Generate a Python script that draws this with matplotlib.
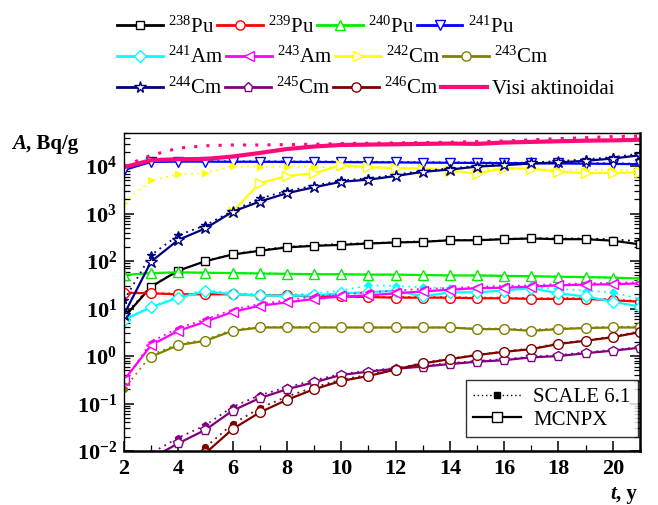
import matplotlib
matplotlib.use("Agg")
import matplotlib.pyplot as plt
import numpy as np
from matplotlib.lines import Line2D
from matplotlib.ticker import FixedLocator, LogLocator, NullFormatter, FuncFormatter

plt.rcParams['font.family'] = 'Liberation Serif'
plt.rcParams['mathtext.fontset'] = 'custom'
plt.rcParams['mathtext.rm'] = 'Liberation Serif'
plt.rcParams['mathtext.bf'] = 'Liberation Serif:bold'
plt.rcParams['mathtext.it'] = 'Liberation Serif:italic'

nan = np.nan
years = np.arange(2, 22)

# activity, Bq/g  (MCNPX = solid/open markers, SCALE 6.1 = dotted/filled markers)
pu238_mcnpx = [6.5, 29, 63, 100, 138, 165, 195, 210, 220, 235, 247, 255, 275, 275, 290, 300, 290, 290, 270, 225]
pu238_scale = [7, 30, 62, 100, 140, 170, 200, 215, 230, 240, 250, 262, 275, 280, 292, 305, 300, 300, 290, 260]
pu239_mcnpx = [21.5, 21, 20, 20, 20, 19, 19, 18, 18, 17.5, 17, 17, 17, 16.5, 16.5, 16, 16, 16, 15, 14]
pu239_scale = [22, 21.5, 20.5, 20.5, 20.5, 19.5, 19.5, 18.5, 18.5, 18, 17.5, 17.5, 17.5, 17, 17, 16.5, 16.5, 16.5, 15.5, 14.5]
pu240_mcnpx = [51, 56, 58, 57, 56, 55, 54, 53, 53, 52, 52, 51, 50, 50, 49, 48, 47, 46, 45, 43]
pu240_scale = [51, 56, 58, 57, 56, 55, 54, 53, 53, 52, 52, 51, 50, 50, 49, 48, 47, 46, 45, 44]
pu241_mcnpx = [8300, 12300, 12500, 12500, 12400, 12400, 12300, 12300, 12200, 12100, 12000, 11900, 11800, 11700,
               11600, 11500, 11400, 11300, 11200, 11000]
pu241_scale = [8500, 12600, 12800, 12800, 12700, 12700, 12600, 12600, 12500, 12400, 12300, 12200, 12100, 12000,
               11900, 11800, 11700, 11600, 11500, 11300]
am241_mcnpx = [5.8, 10.7, 17, 23, 20, 19, 18.5, 19, 21, 22, 24, 18, 22, 22, 24, 27, 21, 18, 14, 11]
am241_scale = [6, 11, 18, 25, 21, 20, 19.5, 21, 24, 31, 30, 28, 27, 27, 27, 28, 26, 24, 22, 16]
am243_mcnpx = [0.31, 1.7, 3.4, 5.3, 8.5, 11.5, 13.5, 16, 18, 19, 21, 23, 25, 27, 27.5, 29, 31, 32, 32.5, 34]
am243_scale = [0.28, 2.0, 3.9, 5.9, 9.5, 12.5, 15, 18, 20, 22, 24, 26, 27, 29, 30, 31, 33, 34, 35, 36]
cm242_mcnpx = [nan, nan, nan, nan, 1100, 4400, 6200, 7100, 10500, 9600, 9100, 8900, 8100, 7000, 9100, 8900,
               7600, 7200, 7200, 7400]
cm242_scale = [1700, 5000, 6700, 7200, 10000, 9800, 9700, 9600, 9500, 9400, 9300, 9000, 8900, 8800, 8700, 8600,
               8500, 8400, 8300, 8200]
cm243_mcnpx = [nan, 0.97, 1.7, 2.1, 3.4, 4.0, 4.0, 4.0, 4.0, 4.0, 4.0, 4.0, 4.0, 3.7, 3.7, 3.4, 3.7, 3.9, 4.0, 4.0]
cm243_scale = [0.2, 1.05, 1.8, 2.2, 3.6, 4.1, 4.1, 4.1, 4.0, 4.0, 4.0, 4.0, 4.0, 3.8, 3.8, 3.6, 3.8, 4.0, 4.1, 4.2]
cm244_mcnpx = [7.5, 98, 280, 490, 1100, 1800, 2700, 3600, 4700, 5200, 6200, 7600, 8500, 9800, 10500, 11400,
               12000, 13000, 14500, 17000]
cm244_scale = [15, 135, 350, 570, 1150, 2100, 3000, 3900, 5000, 5600, 6600, 8000, 9000, 10200, 11000, 12000,
               12800, 14000, 15500, 18500]
cm245_mcnpx = [0.002, 0.007, 0.0145, 0.028, 0.071, 0.13, 0.2, 0.28, 0.40, 0.47, 0.54, 0.6, 0.68, 0.76, 0.82,
               0.94, 1.0, 1.15, 1.3, 1.5]
cm245_scale = [0.003, 0.009, 0.019, 0.035, 0.085, 0.15, 0.22, 0.31, 0.42, 0.49, 0.56, 0.63, 0.71, 0.79, 0.86,
               0.97, 1.05, 1.2, 1.35, 1.55]
cm246_mcnpx = [0.0001, 0.0006, 0.0025, 0.009, 0.029, 0.065, 0.12, 0.2, 0.30, 0.38, 0.52, 0.7, 0.86, 1.05, 1.23,
               1.4, 1.8, 2.1, 2.5, 3.2]
cm246_scale = [0.00015, 0.0008, 0.0035, 0.012, 0.037, 0.08, 0.14, 0.22, 0.32, 0.40, 0.53, 0.72, 0.88, 1.07,
               1.25, 1.45, 1.85, 2.15, 2.6, 3.3]
total_mcnpx = [9500, 13400, 14000, 14200, 16000, 19000, 23000, 26000, 28000, 28500, 29000, 29500, 30000, 29500,
               31500, 32500, 33500, 34500, 35000, 36000]
total_scale = [10000, 17000, 24000, 27000, 28000, 28000, 28500, 29000, 30000, 30500, 31000, 31500, 32000, 33000,
               34000, 36000, 38000, 40000, 42000, 43000]

series = [
    (r'$^{238}$Pu', 'black', 's', 6, pu238_mcnpx, pu238_scale),
    (r'$^{239}$Pu', 'red', 'o', 7, pu239_mcnpx, pu239_scale),
    (r'$^{240}$Pu', '#00ee00', '^', 7, pu240_mcnpx, pu240_scale),
    (r'$^{241}$Pu', 'blue', 'v', 7, pu241_mcnpx, pu241_scale),
    (r'$^{241}$Am', 'cyan', 'D', 6, am241_mcnpx, am241_scale),
    (r'$^{243}$Am', 'magenta', '<', 7, am243_mcnpx, am243_scale),
    (r'$^{242}$Cm', 'yellow', '>', 7, cm242_mcnpx, cm242_scale),
    (r'$^{243}$Cm', '#808000', 'o', 7, cm243_mcnpx, cm243_scale),
    (r'$^{244}$Cm', '#000080', '*', 9, cm244_mcnpx, cm244_scale),
    (r'$^{245}$Cm', '#800080', 'p', 7, cm245_mcnpx, cm245_scale),
    (r'$^{246}$Cm', '#800000', 'o', 7, cm246_mcnpx, cm246_scale),
]
total_color = '#ff0a78'

fig = plt.figure(figsize=(6.58, 5.05), dpi=100)
ax = fig.add_axes([0.1884, 0.1069, 0.7842, 0.6297])

for label, c, m, ms, mc, sc in series:
    ax.plot(years, sc, ls=(0, (1, 2.5)), lw=1.3, color=c, marker=m, ms=ms * 0.6,
            mfc=c, mec=c)
    ax.plot(years, mc, ls='-', lw=1.6, color=c, marker=m, ms=ms,
            mfc='white', mec=c, mew=1.0)

ax.plot(years, total_scale, ls=(0, (1, 3)), lw=2.2, color=total_color)
ax.plot(years, total_mcnpx, ls='-', lw=3, color=total_color)

ax.set_yscale('log')
ax.set_xlim(2, 21)
ax.set_ylim(1e-2, 5e4)

ax.xaxis.set_major_locator(FixedLocator(np.arange(2, 21, 2)))
ax.xaxis.set_minor_locator(FixedLocator(np.arange(3, 22, 2)))
ax.yaxis.set_major_locator(FixedLocator([1e-2, 1e-1, 1, 1e1, 1e2, 1e3, 1e4]))
ax.yaxis.set_minor_locator(LogLocator(base=10, subs=np.arange(2, 10), numticks=20))
ax.yaxis.set_minor_formatter(NullFormatter())
ax.yaxis.set_major_formatter(FuncFormatter(lambda v, p: r'$\mathbf{10^{%d}}$' % round(np.log10(v))))

ax.tick_params(which='both', direction='in', top=False, right=True)
ax.tick_params(which='major', length=7, width=1.1, pad=6)
ax.tick_params(axis='x', which='major', labelsize=16)
ax.tick_params(axis='y', which='major', labelsize=16, pad=5)
ax.tick_params(which='minor', length=4, width=0.9)
for lab in ax.get_xticklabels():
    lab.set_fontweight('bold')

for side in ['left', 'top']:
    ax.spines[side].set_linewidth(1.0)
for side in ['right', 'bottom']:
    ax.spines[side].set_linewidth(1.8)

# axis titles
ya = fig.text(0.018, 0.705, 'A', fontsize=15, fontweight='bold', fontstyle='italic')
ax.annotate(', Bq/g', xy=(1, 0), xycoords=ya, fontsize=15, fontweight='bold', va='bottom')
xa = fig.text(0.928, 0.012, 't', fontsize=15, fontweight='bold', fontstyle='italic')
ax.annotate(', y', xy=(1, 0), xycoords=xa, fontsize=15, fontweight='bold', va='bottom')

# code legend in the corner
code_handles = [
    Line2D([], [], color='black', ls=(0, (1, 2)), lw=1, marker='s', ms=4, mfc='black'),
    Line2D([], [], color='black', ls='-', lw=1.6, marker='s', ms=7, mfc='white'),
]
leg = ax.legend(code_handles, ['SCALE 6.1', 'MCNPX'], loc='lower right', bbox_to_anchor=(0.996, 0.044),
                fontsize=15, frameon=True, fancybox=False, edgecolor='black', handlelength=2.3,
                borderpad=0.35, labelspacing=0.15, handletextpad=0.6, borderaxespad=0)
leg.get_frame().set_linewidth(1.0)

# nuclide legend above the axes, one row at a time
rows = [series[0:4], series[4:8], series[8:11]]
row_tops = [0.968, 0.907, 0.846]
for i, row in enumerate(rows):
    handles = [Line2D([], [], color=c, lw=2, marker=m, ms=ms * 0.95, mfc='white', mec=c)
               for label, c, m, ms, mc, sc in row]
    labels = [r[0] for r in row]
    if i == 2:
        handles.append(Line2D([], [], color=total_color, lw=3))
        labels.append('Visi aktinoidai')
    fig.legend(handles, labels, loc='upper left', bbox_to_anchor=(0.178, row_tops[i]), ncol=4,
               frameon=False, fontsize=15, handlelength=2.2, handletextpad=0.25, columnspacing=0.12,
               borderpad=0, borderaxespad=0)

fig.savefig('out.png', dpi=100)
